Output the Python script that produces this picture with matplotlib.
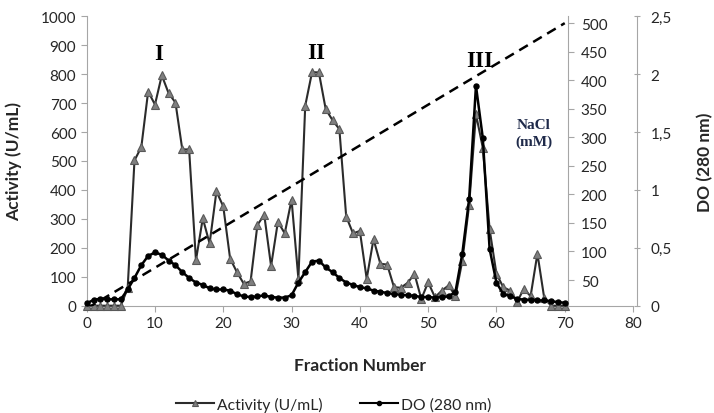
import matplotlib
matplotlib.use("Agg")
import matplotlib.pyplot as plt
from matplotlib.lines import Line2D

# ---- data ----
fractions = list(range(0, 71))
activity = [0, 0, 0, 0, 0, 0, 60, 502, 548, 740, 695, 796, 734, 702, 540, 540,
            157, 302, 215, 395, 343, 163, 116, 76, 84, 279, 314, 137, 290, 250,
            366, 93, 691, 807, 806, 679, 641, 610, 308, 250, 258, 93, 230, 145,
            142, 64, 62, 79, 110, 23, 81, 29, 52, 70, 33, 155, 348, 662, 546,
            264, 110, 64, 52, 12, 58, 33, 180, 26, 0, 0, 0]
do280 = [0.02, 0.05, 0.06, 0.055, 0.055, 0.055, 0.14, 0.24, 0.35, 0.43, 0.46,
         0.44, 0.39, 0.35, 0.29, 0.24, 0.20, 0.18, 0.15, 0.14, 0.14, 0.13, 0.10,
         0.08, 0.075, 0.08, 0.09, 0.075, 0.07, 0.07, 0.09, 0.20, 0.29, 0.38,
         0.39, 0.33, 0.29, 0.24, 0.20, 0.18, 0.16, 0.15, 0.13, 0.12, 0.11, 0.10,
         0.095, 0.09, 0.085, 0.075, 0.075, 0.07, 0.075, 0.08, 0.12, 0.45, 0.92,
         1.90, 1.45, 0.49, 0.20, 0.10, 0.084, 0.06, 0.052, 0.05, 0.046, 0.045,
         0.04, 0.03, 0.026]
nacl_x = [0, 70]
nacl_y = [0, 500]
x_ticks = [0, 10, 20, 30, 40, 50, 60, 70, 80]
act_ticks = [0, 100, 200, 300, 400, 500, 600, 700, 800, 900, 1000]
nacl_ticks = [50, 100, 150, 200, 250, 300, 350, 400, 450, 500]
do_ticks = [0, 0.5, 1.0, 1.5, 2.0, 2.5]
do_labels = ["0", "0,5", "1", "1,5", "2", "2,5"]
peak_labels = ["I", "II", "III"]
peak_pos = [(10.6, 872), (33.6, 874), (57.6, 849)]

plt.rcParams['font.family'] = ['Lato', 'DejaVu Sans']
spine_c = '#a6a6a6'
txt_c = '#262626'

fig = plt.figure(figsize=(7.14, 4.14), dpi=100)
ax = fig.add_axes([0.1214, 0.2592, 0.7652, 0.699])
ax.set_xlim(0, 80)
ax.set_ylim(0, 1000)

ax.plot(fractions, activity, color='#2b2b2b', lw=1.5, marker='^', ms=6,
        mfc='#7f7f7f', mec='#595959', mew=0.8, zorder=3, clip_on=False)

for s in ['top', 'right']:
    ax.spines[s].set_visible(False)
for s in ['left', 'bottom']:
    ax.spines[s].set_color(spine_c)
ax.set_xticks(x_ticks)
ax.set_yticks(act_ticks)
ax.tick_params(axis='both', colors=spine_c, labelcolor=txt_c, labelsize=11,
               length=4, width=0.8)
ax.set_xlabel('Fraction Number', fontsize=12.5, fontweight='bold', color=txt_c)
ax.xaxis.set_label_coords(0.5, -0.177)
ax.set_ylabel('Activity (U/mL)', fontsize=12.5, fontweight='bold', color=txt_c)
ax.yaxis.set_label_coords(-0.118, 0.5)

# NaCl axis
ax_n = ax.twinx()
ax_n.set_ylim(5, 512)
ax_n.plot(nacl_x, nacl_y, color='black', lw=1.8, ls=(0, (4, 2.5)), zorder=2)
for s in ['top', 'left', 'bottom']:
    ax_n.spines[s].set_visible(False)
ax_n.spines['right'].set_position(('axes', 0.8815))
ax_n.spines['right'].set_color(spine_c)
ax_n.set_yticks(nacl_ticks)
ax_n.tick_params(axis='y', colors=spine_c, labelcolor=txt_c, labelsize=11,
                 length=4, width=0.8, pad=5)

# DO axis
ax_d = ax.twinx()
ax_d.set_ylim(0, 2.5)
ax_d.plot(fractions, do280, color='black', lw=1.8, marker='o', ms=3.6,
          zorder=4, clip_on=False)
for s in ['top', 'left', 'bottom']:
    ax_d.spines[s].set_visible(False)
ax_d.spines['right'].set_position(('axes', 1.007))
ax_d.spines['right'].set_color(spine_c)
ax_d.set_yticks(do_ticks)
ax_d.set_yticklabels(do_labels)
ax_d.tick_params(axis='y', colors=spine_c, labelcolor=txt_c, labelsize=11,
                 length=4, width=0.8, direction='inout', pad=8)
ax_d.set_ylabel('DO (280 nm)', fontsize=12.5, fontweight='bold', color=txt_c)
ax_d.yaxis.set_label_coords(1.117, 0.5)

# annotations
for lab, (px, py) in zip(peak_labels, peak_pos):
    ax.text(px, py, lab, ha='center', va='center', fontsize=16.5,
            fontweight='bold', family='Liberation Serif', color='black')
ax.text(65.5, 597, 'NaCl\n(mM)', ha='center', va='center', fontsize=11,
        fontweight='bold', family='Liberation Serif', color='#1f2a4a',
        linespacing=1.3)

handles = [
    Line2D([], [], color='#2b2b2b', lw=1.5, marker='^', ms=5, mfc='#7f7f7f',
           mec='#595959', mew=0.8),
    Line2D([], [], color='black', lw=1.5, marker='o', ms=3),
]
fig.legend(handles, ['Activity (U/mL)', 'DO (280 nm)'], loc='center',
           bbox_to_anchor=(334 / 714, 1 - 405 / 414), ncol=2, frameon=False,
           fontsize=11.3, handlelength=2.4, columnspacing=2.4,
           handletextpad=0.2, labelcolor=txt_c)

fig.savefig('out.png', dpi=100)
